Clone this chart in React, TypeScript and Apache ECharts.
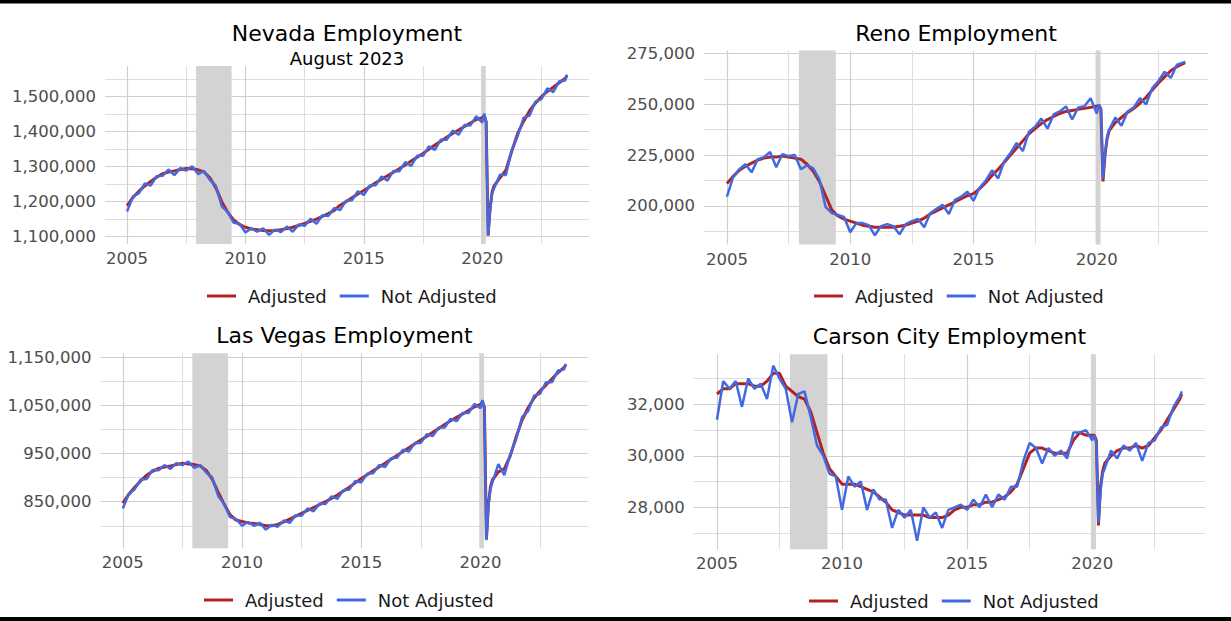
import React, { useEffect, useRef } from "react";
import * as echarts from "echarts";

const FONT = "DejaVu Sans";

// decimal-year dates (quarterly, monthly around the 2020 drop)
const dates = [
  2005, 2005.25, 2005.5, 2005.75,
  2006, 2006.25, 2006.5, 2006.75,
  2007, 2007.25, 2007.5, 2007.75,
  2008, 2008.25, 2008.5, 2008.75,
  2009, 2009.25, 2009.5, 2009.75,
  2010, 2010.25, 2010.5, 2010.75,
  2011, 2011.25, 2011.5, 2011.75,
  2012, 2012.25, 2012.5, 2012.75,
  2013, 2013.25, 2013.5, 2013.75,
  2014, 2014.25, 2014.5, 2014.75,
  2015, 2015.25, 2015.5, 2015.75,
  2016, 2016.25, 2016.5, 2016.75,
  2017, 2017.25, 2017.5, 2017.75,
  2018, 2018.25, 2018.5, 2018.75,
  2019, 2019.25, 2019.5, 2019.75,
  2020, 2020.083, 2020.167, 2020.25, 2020.333, 2020.417, 2020.5, 2020.75,
  2021, 2021.25, 2021.5, 2021.75,
  2022, 2022.25, 2022.5, 2022.75,
  2023, 2023.25, 2023.5, 2023.583,
];

// values in thousands of jobs
const nevadaAdjusted = [
  1188, 1212, 1230, 1245,
  1258, 1270, 1280, 1285,
  1288, 1292, 1295, 1294,
  1291, 1285, 1268, 1240,
  1200, 1170, 1148, 1135,
  1127, 1122, 1120, 1118,
  1117, 1118, 1120, 1123,
  1127, 1132, 1138, 1144,
  1150, 1158, 1166, 1175,
  1190, 1200, 1211, 1222,
  1232, 1243, 1254, 1264,
  1274, 1284, 1294, 1305,
  1316, 1327, 1338, 1350,
  1362, 1373, 1384, 1395,
  1405, 1415, 1425, 1435,
  1440, 1445, 1428, 1105, 1180, 1228, 1245, 1268,
  1290, 1345, 1395, 1430,
  1460, 1482, 1500, 1515,
  1527, 1540, 1552, 1560,
];
const nevadaNotAdjusted = [
  1172, 1215, 1224, 1252,
  1246, 1273, 1274, 1292,
  1276, 1296, 1289, 1301,
  1279, 1288, 1262, 1246,
  1187, 1171, 1140, 1137,
  1112, 1124, 1114, 1124,
  1105, 1120, 1113, 1129,
  1114, 1135, 1131, 1151,
  1137, 1161, 1159, 1182,
  1176, 1203, 1204, 1230,
  1219, 1246, 1247, 1272,
  1260, 1288, 1287, 1313,
  1302, 1331, 1331, 1358,
  1348, 1377, 1377, 1403,
  1391, 1419, 1418, 1444,
  1426, 1452, 1430, 1102, 1176, 1224, 1238, 1277,
  1276, 1348, 1388, 1440,
  1446, 1486, 1493, 1524,
  1513, 1544, 1546, 1563,
];

const renoAdjusted = [
  211, 214.5, 217.5, 219.5,
  221, 222.5, 223.5, 224,
  224, 224.5, 224, 223.5,
  223, 220.5, 217, 212,
  205, 198, 195, 193.5,
  192.5, 191.5, 190.5, 190,
  189.5, 189.5, 189.5, 189.5,
  190, 190.5, 191.5, 192.5,
  194, 196, 197.5, 199,
  200.5, 202, 203.5, 205,
  206, 208.5, 211.5, 215,
  218, 221.5, 225, 228.5,
  232, 235.5, 238, 240.5,
  242.5, 244, 245.5, 246.5,
  247, 247.5, 248, 248.5,
  249, 249.5, 247.5, 212, 225, 233, 237, 241,
  243.5, 246, 248, 250.5,
  253.5, 257, 260.5, 263.5,
  266.5, 268.5, 270, 270.5,
];
const renoNotAdjusted = [
  204.5, 214, 218, 220.5,
  216.5, 223, 224, 226.5,
  219, 225.5, 224.5, 225,
  218, 220, 218.5, 213,
  199.5, 196.5, 195.5, 194.5,
  187, 191.5, 191.5, 190.5,
  185.5, 190, 191, 190,
  186, 191, 192.5, 193.5,
  189.5, 196.5, 198.5, 200.5,
  196, 203, 204.5, 207,
  202.5, 209, 212.5, 217.5,
  213.5, 222, 226, 231,
  227, 236.5, 239, 243,
  238, 245, 246.5, 249,
  242.5, 248.5, 249, 253,
  245.5, 250, 248, 213.5, 225.5, 234, 237.5, 243.5,
  239.5, 246.5, 248.5, 253,
  250, 258, 261.5, 266,
  263, 269.5, 270.5, 271,
];

const lasVegasAdjusted = [
  847, 865, 880, 893,
  905, 913, 919, 922,
  924, 927, 930, 928,
  927, 924, 915, 897,
  870, 845, 823, 812,
  809, 806, 805, 803,
  800, 800, 803, 808,
  814, 820, 826, 832,
  838, 844, 850, 857,
  864, 872, 880, 889,
  898, 906, 914, 922,
  930, 938, 946, 954,
  962, 970, 978, 986,
  994, 1002, 1010, 1018,
  1025, 1032, 1039, 1047,
  1052, 1057, 1045, 772, 845, 880, 895, 912,
  918, 945, 985, 1020,
  1045, 1065, 1080, 1092,
  1105, 1118, 1128, 1134,
];
const lasVegasNotAdjusted = [
  836, 866, 876, 896,
  897, 916, 915, 926,
  918, 930, 926, 933,
  920, 926, 910, 900,
  862, 845, 818, 814,
  800, 808, 800, 806,
  792, 802, 798, 811,
  806, 822, 821, 836,
  830, 846, 845, 861,
  856, 874, 875, 893,
  890, 908, 909, 926,
  922, 940, 941, 958,
  954, 972, 972, 990,
  986, 1004, 1004, 1022,
  1017, 1034, 1034, 1053,
  1044, 1061, 1047, 770, 842, 876, 890, 928,
  905, 948, 980, 1026,
  1038, 1070, 1074, 1098,
  1098, 1122, 1124, 1136,
];

const carsonAdjusted = [
  32.4, 32.6, 32.6, 32.8,
  32.8, 32.8, 32.7, 32.7,
  32.9, 33.2, 33.2, 32.7,
  32.5, 32.3, 32.2, 31.7,
  30.9, 30.1, 29.5, 29.2,
  28.9, 28.9, 28.9, 28.8,
  28.7, 28.6, 28.4, 28.2,
  27.9, 27.8, 27.7, 27.7,
  27.7, 27.7, 27.6, 27.6,
  27.6, 27.7, 27.9, 28.0,
  28.0, 28.1, 28.1, 28.2,
  28.2, 28.3, 28.4, 28.6,
  28.9, 29.5, 30.1, 30.3,
  30.3, 30.2, 30.1, 30.1,
  30.1, 30.6, 30.9, 30.8,
  30.8, 30.8, 30.6, 27.3, 28.8, 29.4, 29.7, 30.0,
  30.2, 30.3, 30.3, 30.4,
  30.3, 30.4, 30.7, 31.0,
  31.4, 31.8, 32.2, 32.4,
];
const carsonNotAdjusted = [
  31.4, 32.9, 32.6, 32.9,
  31.9, 33.0, 32.6, 32.8,
  32.2, 33.5, 33.0, 32.6,
  31.3, 32.4, 32.5, 31.5,
  30.4, 30.0, 29.3, 29.2,
  27.9, 29.2, 28.8, 29.0,
  27.9, 28.7, 28.3, 28.3,
  27.2, 27.9, 27.6, 27.9,
  26.7, 28.0, 27.6, 27.8,
  27.2, 27.9, 28.0, 28.1,
  27.9, 28.3, 28.0, 28.5,
  28.0, 28.5, 28.3, 28.8,
  28.8, 29.8, 30.5, 30.3,
  29.7, 30.3, 30.0, 30.2,
  29.9, 30.9, 30.9, 31.0,
  30.6, 30.8, 30.5, 27.4, 28.6, 29.3, 29.5, 30.2,
  29.9, 30.4, 30.2, 30.5,
  29.8, 30.5, 30.6, 31.1,
  31.2, 31.9, 32.3, 32.5,
];

const recessions = [
  [2007.917, 2009.417],
  [2019.95, 2020.15],
];

const xMajorTicks = [2005, 2010, 2015, 2020];
const xMinorTicks = [2007.5, 2012.5, 2017.5, 2022.5];

const titles = ["Nevada Employment", "Reno Employment", "Las Vegas Employment", "Carson City Employment"];
const subtitle = "August 2023";
const legendNames = ["Adjusted", "Not Adjusted"];

const adjustedSeries = [nevadaAdjusted, renoAdjusted, lasVegasAdjusted, carsonAdjusted];
const notAdjustedSeries = [nevadaNotAdjusted, renoNotAdjusted, lasVegasNotAdjusted, carsonNotAdjusted];

const yMajorTicks = [
  [1100, 1200, 1300, 1400, 1500],
  [200, 225, 250, 275],
  [850, 950, 1050, 1150],
  [28, 30, 32],
];
const yMinorTicks = [
  [1150, 1250, 1350, 1450, 1550],
  [187.5, 212.5, 237.5, 262.5],
  [800, 900, 1000, 1100],
  [27, 29, 31, 33],
];
const yRanges = [
  [1079.1, 1587.7],
  [180.97, 276.5],
  [753.3, 1157.9],
  [26.37, 33.94],
];

const X_MIN = 2004.07;
const X_MAX = 2024.51;

const layout = [
  { grid: { left: 105, top: 66, width: 484, height: 178 }, title: [347, 33], legend: [207, 287] },
  { grid: { left: 704, top: 50.5, width: 504, height: 194 }, title: [956, 33], legend: [814, 287] },
  { grid: { left: 100.6, top: 353.3, width: 487.4, height: 195 }, title: [344.5, 335.5], legend: [204, 591] },
  { grid: { left: 693.7, top: 354.3, width: 511.3, height: 195 }, title: [949.5, 336], legend: [809, 592] },
];

const RED = "#B22222";
const BLUE = "#4169E1";
const MAJOR = "#cfcfcf";
const MINOR = "#dedede";

function fmt(v: number) {
  return Math.round(v * 1000).toLocaleString("en-US");
}

function buildOption() {
  const grid: any[] = [];
  const xAxis: any[] = [];
  const yAxis: any[] = [];
  const series: any[] = [];
  const legend: any[] = [];
  const graphic: any[] = [];

  layout.forEach((L, i) => {
    grid.push({ ...L.grid, containLabel: false, outerBoundsMode: "none" });
    const common = {
      type: "value",
      gridIndex: i,
      axisLine: { show: false },
      axisTick: { show: false },
    };
    xAxis.push({
      ...common,
      min: X_MIN,
      max: X_MAX,
      axisTick: { show: false, customValues: xMajorTicks },
      axisLabel: {
        customValues: xMajorTicks,
        fontFamily: FONT,
        fontSize: 16.5,
        color: "#4d4d4d",
        margin: 6,
        formatter: (v: number) => String(Math.round(v)),
      },
      splitLine: { show: true, lineStyle: { color: MAJOR, width: 1.2 } },
    });
    xAxis.push({
      ...common,
      min: X_MIN,
      max: X_MAX,
      axisTick: { show: false, customValues: xMinorTicks },
      axisLabel: { show: false, customValues: xMinorTicks },
      splitLine: { show: true, lineStyle: { color: MINOR, width: 1 } },
    });
    yAxis.push({
      ...common,
      min: yRanges[i][0],
      max: yRanges[i][1],
      axisTick: { show: false, customValues: yMajorTicks[i] },
      axisLabel: {
        customValues: yMajorTicks[i],
        fontFamily: FONT,
        fontSize: 16.5,
        color: "#4d4d4d",
        margin: 9,
        formatter: fmt,
      },
      splitLine: { show: true, lineStyle: { color: MAJOR, width: 1.2 } },
    });
    yAxis.push({
      ...common,
      min: yRanges[i][0],
      max: yRanges[i][1],
      axisTick: { show: false, customValues: yMinorTicks[i] },
      axisLabel: { show: false, customValues: yMinorTicks[i] },
      splitLine: { show: true, lineStyle: { color: MINOR, width: 1 } },
    });

    series.push({
      type: "line",
      name: "recession",
      xAxisIndex: 2 * i,
      yAxisIndex: 2 * i,
      data: [],
      z: 1,
      silent: true,
      markArea: {
        silent: true,
        itemStyle: { color: "#d3d3d3", opacity: 1 },
        data: recessions.map(([a, b]) => [{ xAxis: a }, { xAxis: b }]),
      },
    });
    series.push({
      type: "line",
      name: legendNames[0],
      xAxisIndex: 2 * i,
      yAxisIndex: 2 * i,
      data: dates.map((d, k) => [d, adjustedSeries[i][k]]),
      symbol: "none",
      showSymbol: false,
      lineStyle: { color: RED, width: 3 },
      itemStyle: { color: RED },
      z: 3,
      silent: true,
    });
    series.push({
      type: "line",
      name: legendNames[1],
      xAxisIndex: 2 * i,
      yAxisIndex: 2 * i,
      data: dates.map((d, k) => [d, notAdjustedSeries[i][k]]),
      symbol: "none",
      showSymbol: false,
      lineStyle: { color: BLUE, width: 2.5 },
      itemStyle: { color: BLUE },
      z: 4,
      silent: true,
    });

    legend.push({
      left: L.legend[0],
      top: L.legend[1],
      padding: 0,
      orient: "horizontal",
      itemWidth: 29,
      itemHeight: 3,
      itemGap: 13,
      icon: "rect",
      selectedMode: false,
      data: legendNames,
      textStyle: { fontFamily: FONT, fontSize: 18, color: "#1a1a1a", padding: [0, 0, 0, 7] },
    });

    graphic.push({
      type: "text",
      x: L.title[0],
      y: L.title[1],
      silent: true,
      style: {
        text: titles[i],
        font: `22px "${FONT}"`,
        fill: "#000000",
        textAlign: "center",
        textVerticalAlign: "middle",
      },
    });
  });

  graphic.push({
    type: "text",
    x: 347,
    y: 58.5,
    silent: true,
    style: {
      text: subtitle,
      font: `18px "${FONT}"`,
      fill: "#000000",
      textAlign: "center",
      textVerticalAlign: "middle",
    },
  });
  graphic.push({ type: "rect", shape: { x: 0, y: 0, width: 1231, height: 3.5 }, style: { fill: "#000000" }, silent: true });
  graphic.push({ type: "rect", shape: { x: 0, y: 617, width: 1231, height: 4 }, style: { fill: "#000000" }, silent: true });

  return {
    animation: false,
    backgroundColor: "#ffffff",
    grid,
    xAxis,
    yAxis,
    series,
    legend,
    graphic,
  };
}

export default function App() {
  const ref = useRef<HTMLDivElement | null>(null);
  useEffect(() => {
    if (!ref.current) return;
    const chart = echarts.init(ref.current, undefined, { renderer: "svg" });
    chart.setOption(buildOption() as any);
    return () => chart.dispose();
  }, []);
  return (
    <div
      ref={ref}
      style={{ position: "absolute", left: 0, top: 0, width: 1231, height: 621, background: "#ffffff" }}
    />
  );
}
